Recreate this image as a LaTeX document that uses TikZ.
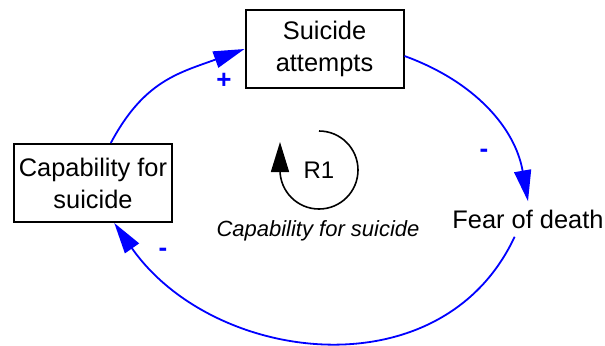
\documentclass[tikz,border=0pt]{standalone}
\usepackage{fontspec}
\setmainfont{Liberation Sans}
\usetikzlibrary{arrows.meta, positioning}
\definecolor{LinkBlue}{RGB}{0,0,255}

\begin{document}
\begin{tikzpicture}[
    x=0.5pt, y=0.5pt,
    varbox/.style={draw=black, line width=1pt, align=center, minimum width=79pt, minimum height=39pt, inner sep=2pt, font=\fontsize{12.7}{16}\selectfont},
    varplain/.style={align=center, inner sep=4pt, font=\fontsize{12.7}{16}\selectfont},
    link/.style={-{Triangle[length=15.5pt, width=8.5pt]}, line width=0.9pt, LinkBlue},
    polarity/.style={font=\bfseries\fontsize{13}{14}\selectfont, text=LinkBlue, inner sep=0pt},
    loopname/.style={font=\fontsize{12}{14}\selectfont},
    looplbl/.style={font=\itshape\fontsize{11}{13}\selectfont}
]
    \useasboundingbox (0,0) rectangle (605,-345);

    % Nodes
    \node[varbox] (attempts) at (324.5,-49) {Suicide\\attempts};
    \node[varbox] (capability) at (93,-183) {Capability for\\suicide};
    \node[varplain] (fear) at (528,-219) {Fear of death};
    \node[loopname] (r1) at (319,-170) {R1};
    \node[looplbl] (r1lbl) at (318,-231) {Capability for suicide};

    % Loop symbol
    \draw[line width=0.8pt, -{Triangle[length=15pt, width=9pt]}] (r1.center) ++(0,39) arc[start angle=90, end angle=-180, radius=39] -- ++(0,28);

    % Edges
    \draw[link] (capability.66) to[out=62, in=200, looseness=1.1] (attempts.west);
    \draw[link] (attempts.-5) to[out=-20, in=100] (fear.north);
    \draw[link] (fear.-127) to[out=-115, in=-55, looseness=1.1] (capability.-62);

    % Polarities
    \node[polarity] (p1) at (224,-81) {+};
    \node[polarity] (p2) at (484,-153) {-};
    \node[polarity] (p3) at (163,-252) {-};

\end{tikzpicture}
\end{document}
